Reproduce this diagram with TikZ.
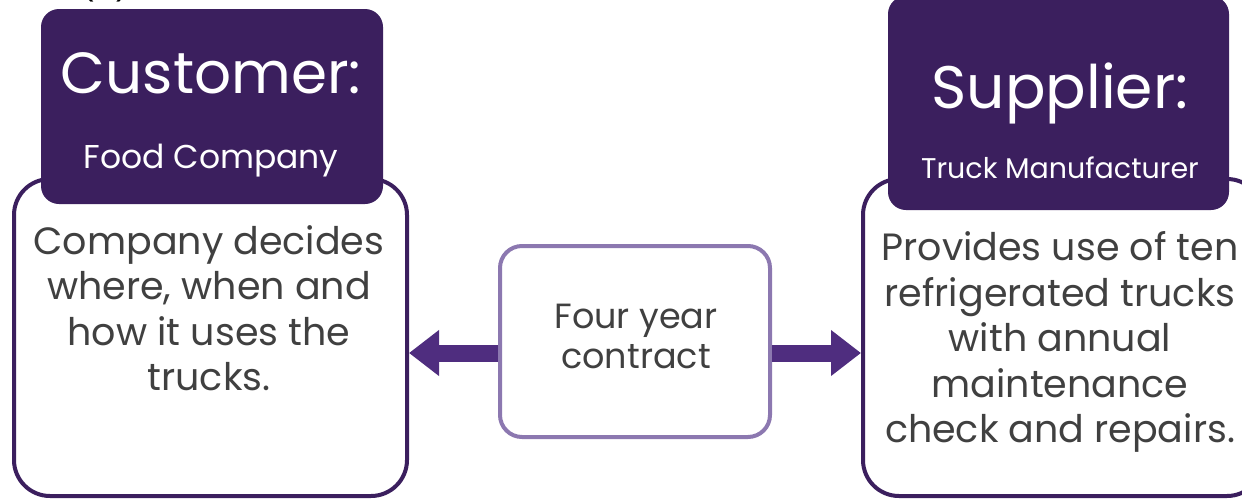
\documentclass[tikz,border=0pt]{standalone}
\usepackage{fontspec}
\setmainfont{Poppins}
\usetikzlibrary{arrows.meta}
\definecolor{deeppurple}{HTML}{3B1F5E}
\definecolor{arrowpurple}{HTML}{4F2D7F}
\definecolor{softpurple}{HTML}{8C78B0}
\definecolor{bodygrey}{HTML}{404040}
\tikzset{
  panel/.style={draw=deeppurple, line width=4pt, fill=white, rounded corners=36pt, inner sep=0pt},
  header/.style={fill=deeppurple, rounded corners=18pt, inner sep=0pt},
  contract/.style={draw=softpurple, line width=4pt, fill=white, rounded corners=22pt, inner sep=0pt},
  bodytext/.style={text=bodygrey, align=center, inner sep=0pt, font=\fontsize{38}{45.5}\selectfont},
  titletext/.style={text=white, inner sep=0pt},
  subtext/.style={text=white, inner sep=0pt},
  link/.style={draw=arrowpurple, line width=17pt, -{Triangle[length=30pt,width=44pt]}}
}
\begin{document}
\begin{tikzpicture}[x=1pt, y=-1pt]
  \useasboundingbox (0,0) rectangle (1242,498);
  \clip (0,0) rectangle (1242,498);
  % figure label, mostly above the frame
  \node[text=black, inner sep=0pt, anchor=base, font=\fontsize{30}{30}\selectfont] (lbl) at (105,-4) {(a)};
  % outlined panels
  \node[panel, minimum width=393pt, minimum height=317pt] (lbox) at (210.5,337.5) {};
  \node[panel, minimum width=400pt, minimum height=317pt] (rbox) at (1063,337.5) {};
  % headers sitting on top of the panels
  \node[header, minimum width=342pt, minimum height=195pt] (lhead) at (212,106.5) {};
  \node[header, minimum width=341pt, minimum height=214pt] (rhead) at (1058.5,103) {};
  \node[titletext, anchor=base, font=\fontsize{58}{58}\selectfont] (ltitle) at (211,93) {Customer:};
  \node[subtext, anchor=base, font=\fontsize{33}{33}\selectfont] (lsub) at (211,168) {Food Company};
  \node[titletext, anchor=base, font=\fontsize{60}{60}\selectfont] (rtitle) at (1060,108) {Supplier:};
  \node[subtext, anchor=base, font=\fontsize{28.5}{28.5}\selectfont] (rsub) at (1060,178) {Truck Manufacturer};
  % panel texts
  \node[bodytext] (ltext) at (209,308) {Company decides\\where, when and\\how it uses the\\trucks.};
  \node[bodytext] (rtext) at (1060,342) {Provides use of ten\\refrigerated trucks\\with annual\\maintenance\\check and repairs.};
  % contract box in the middle
  \node[contract, minimum width=270pt, minimum height=191pt] (mid) at (635,341.5) {};
  \node[text=bodygrey, align=center, inner sep=0pt, font=\fontsize{35}{40}\selectfont] (midtext) at (636,336) {Four year\\contract};
  % arrows to both parties
  \draw[link] (mid.west |- 0,353) -- (lbox.east |- 0,353);
  \draw[link] (mid.east |- 0,353) -- (rbox.west |- 0,353);
\end{tikzpicture}
\end{document}
